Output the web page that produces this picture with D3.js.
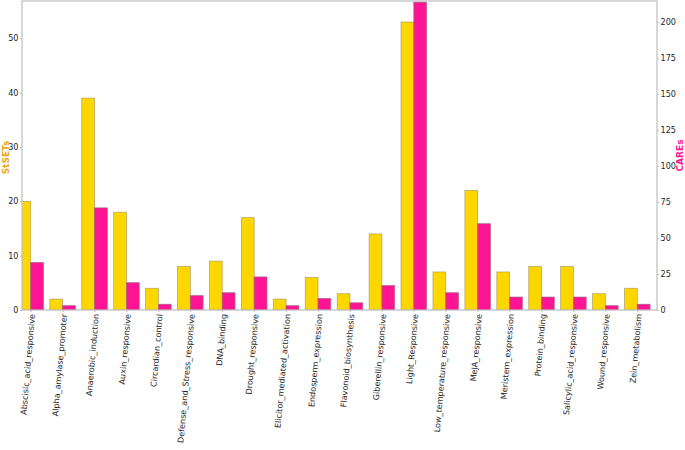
<!DOCTYPE html>
<html>
<head>
<meta charset="utf-8">
<script src="https://cdn.jsdelivr.net/npm/d3@7"></script>
<style>
  body { margin: 0; background: #fff; }
  svg { font-family: "DejaVu Sans", sans-serif; }
</style>
</head>
<body>
<svg id="chart" width="685" height="450"></svg>
<script>
// categories and the two series
const categories = [
    "Abscisic_acid_responsive", "Alpha_amylase_promoter", "Anaerobic_induction",
    "Auxin_responsive", "Circardian_control", "Defense_and_Stress_responsive",
    "DNA_binding", "Drought_responsive", "Elicitor_mediated_activation",
    "Endosperm_expression", "Flavonoid_biosynthesis", "Giberellin_responsive",
    "Light_Responsive", "Low_temperature_responsive", "MeJA_responsive",
    "Meristem_expression", "Protein_binding", "Salicylic_acid_responsive",
    "Wound_responsive", "Zein_metabolism"
];
const stsets = [20, 2, 39, 18, 4, 8, 9, 17, 2, 6, 3, 14, 53, 7, 22, 7, 8, 8, 3, 4];
const cares = [33, 3, 71, 19, 4, 10, 12, 23, 3, 8, 5, 17, 214, 12, 60, 9, 9, 9, 3, 4];

const leftTicks = [0, 10, 20, 30, 40, 50];
const rightTicks = [0, 25, 50, 75, 100, 125, 150, 175, 200];

const width = 685;
const height = 450;
const plotLeft = 22;
const plotRight = 657;
const plotTop = 1;
const plotBottom = 310;
const plotWidth = plotRight - plotLeft;
const plotHeight = plotBottom - plotTop;

const yellow = "#ffd700";
const pink = "#ff1493";
const spineColor = "#bdbdbd";
const textColor = "#262626";
const tickFont = 8.1;

const svg = d3.select("#chart");

// x in category-index units, bars are 0.4 wide each side of the tick
let xScale = d3.scaleLinear()
                .domain([-0.272, categories.length - 1 + 0.617])
                .range([0, plotWidth]);
let leftY = d3.scaleLinear()
                .domain([0, 56.87])
                .range([plotHeight, 0]);
let rightY = d3.scaleLinear()
                .domain([0, 214.8])
                .range([plotHeight, 0]);
const barW = xScale(0.4) - xScale(0);

svg.append("defs").append("clipPath")
    .attr("id", "plotClip")
    .append("rect")
    .attr("width", plotWidth)
    .attr("height", plotHeight);

const plot = svg.append("g")
    .attr("transform", `translate(${plotLeft}, ${plotTop})`);

const bars = plot.append("g").attr("clip-path", "url(#plotClip)");

bars.selectAll("rect.st")
    .data(stsets)
    .join("rect")
    .attr("class", "st")
    .attr("x", (d, i) => xScale(i) - barW)
    .attr("y", d => leftY(d))
    .attr("width", barW)
    .attr("height", d => plotHeight - leftY(d))
    .attr("fill", yellow)
    .attr("stroke", "#a89a5a")
    .attr("stroke-opacity", 0.8)
    .attr("stroke-width", 0.8);

bars.selectAll("rect.ca")
    .data(cares)
    .join("rect")
    .attr("class", "ca")
    .attr("x", (d, i) => xScale(i))
    .attr("y", d => rightY(d))
    .attr("width", barW)
    .attr("height", d => plotHeight - rightY(d))
    .attr("fill", pink)
    .attr("stroke", "#a0607f")
    .attr("stroke-opacity", 0.8)
    .attr("stroke-width", 0.8);

// frame
plot.append("rect")
    .attr("width", plotWidth)
    .attr("height", plotHeight)
    .attr("fill", "none")
    .attr("stroke", spineColor)
    .attr("stroke-width", 1.2);

function styleAxis(g) {
    g.select(".domain").remove();
    g.selectAll(".tick line").attr("stroke", spineColor);
    g.selectAll(".tick text")
        .attr("fill", textColor)
        .attr("font-size", tickFont)
        .attr("font-family", "DejaVu Sans");
}

plot.append("g")
    .call(d3.axisLeft(leftY).tickValues(leftTicks).tickSize(2).tickPadding(1.5))
    .call(styleAxis);

plot.append("g")
    .attr("transform", `translate(${plotWidth}, 0)`)
    .call(d3.axisRight(rightY).tickValues(rightTicks).tickSize(2).tickPadding(1.5))
    .call(styleAxis);

const xAxis = plot.append("g")
    .attr("transform", `translate(0, ${plotHeight})`)
    .call(d3.axisBottom(xScale)
        .tickValues(d3.range(categories.length))
        .tickFormat(i => categories[i])
        .tickSize(2))
    .call(styleAxis);

// labels are nearly vertical, with a slight lean
xAxis.selectAll(".tick text")
    .attr("transform", "translate(1, 4) rotate(-85)")
    .attr("text-anchor", "end")
    .attr("x", 0)
    .attr("y", 0)
    .attr("dy", "0.35em");

// axis titles
svg.append("text")
    .attr("transform", `translate(9, ${plotTop + plotHeight / 2 + 2}) rotate(-90)`)
    .attr("text-anchor", "middle")
    .attr("font-size", 9)
    .attr("font-weight", "bold")
    .attr("fill", "#e6a817")
    .text("StSETs");

svg.append("text")
    .attr("transform", `translate(683, ${plotTop + plotHeight / 2}) rotate(-90)`)
    .attr("text-anchor", "middle")
    .attr("font-size", 9)
    .attr("font-weight", "bold")
    .attr("fill", pink)
    .text("CAREs");
</script>
</body>
</html>
